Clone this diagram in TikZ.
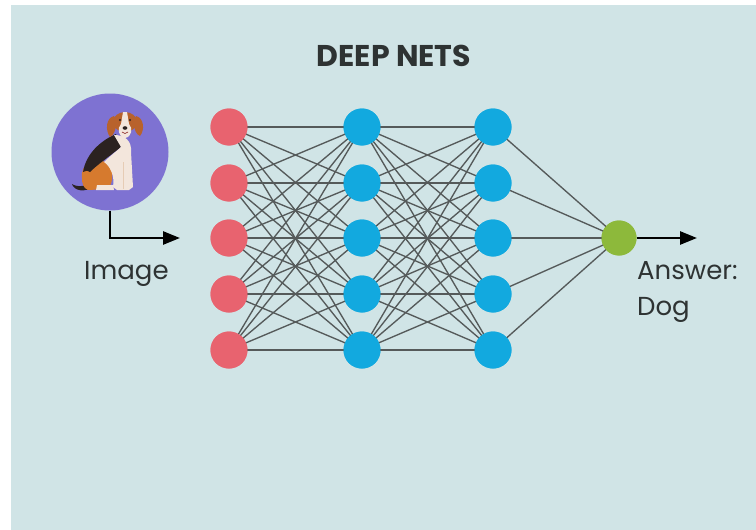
\documentclass[tikz,border=0pt]{standalone}
\usepackage{fontspec}
\setmainfont{Poppins}
\usetikzlibrary{arrows.meta}
\definecolor{panel}{HTML}{D0E4E6}
\definecolor{inpink}{HTML}{E8636F}
\definecolor{hidblue}{HTML}{12A9DF}
\definecolor{outgreen}{HTML}{8DB93B}
\definecolor{discpurple}{HTML}{7E72D2}
\definecolor{wire}{HTML}{555A5A}
\definecolor{ink}{HTML}{2E3333}
\definecolor{earbrown}{HTML}{B8622C}
\definecolor{haunch}{HTML}{D67A2E}
\definecolor{saddle}{HTML}{2B2220}
\definecolor{coat}{HTML}{F3E6DC}
\tikzset{
  neuron/.style={circle, minimum size=37pt, inner sep=0pt},
  inlayer/.style={neuron, fill=inpink},
  hidlayer/.style={neuron, fill=hidblue},
  outlayer/.style={circle, minimum size=35pt, inner sep=0pt, fill=outgreen},
  synapse/.style={draw=wire, line width=1.35pt},
  flow/.style={draw=black, line width=2.6pt, -{Triangle[length=17pt,width=13pt]}},
  label/.style={text=ink, font=\fontsize{26}{36}\selectfont, align=left, inner sep=0pt},
}
\begin{document}
\begin{tikzpicture}[x=1pt,y=-1pt]
\useasboundingbox (0,0) rectangle (756,530);
\fill[white] (0,0) rectangle (756,530);
\fill[panel] (11,5) rectangle (756,530);

\node[text=ink, font=\fontsize{30}{36}\selectfont\bfseries] (title) at (394,56) {DEEP NETS};

% input picture: a seated beagle on a purple disc
\node[circle, fill=discpurple, minimum size=117pt, inner sep=0pt] (img) at (110,152) {};
\begin{scope}
  % tail
  \fill[saddle] (95,186) .. controls (85,193) and (74,191) .. (72,184)
     .. controls (78,188) and (88,186) .. (93,181) -- cycle;
  % orange haunch
  \fill[haunch] (82,178) .. controls (80,164) and (94,158) .. (106,162)
     .. controls (114,168) and (114,182) .. (108,189) -- (88,190)
     .. controls (83,188) and (82,183) .. (82,178) -- cycle;
  % black saddle over the back
  \fill[saddle] (83,172) .. controls (86,154) and (100,141) .. (116,134)
     -- (121,147) .. controls (110,156) and (98,164) .. (90,172)
     .. controls (87,170) and (85,171) .. (83,172) -- cycle;
  % chest and front legs
  \fill[coat] (114,135) .. controls (125,135) and (132,141) .. (131,152)
     -- (133,187) -- (129,190) -- (117,190) -- (113,187)
     .. controls (115,176) and (110,166) .. (104,162)
     .. controls (110,156) and (118,150) .. (121,147) -- cycle;
  \draw[coat!75!brown, line width=0.6pt] (123,162) -- (123,189);
  % hind paw
  \fill[coat] (97,185) -- (113,185) -- (114,190) -- (96,190) -- cycle;
  % ears
  \fill[earbrown] (114,116) .. controls (106,118) and (105,130) .. (110,137)
     .. controls (114,136) and (116,128) .. (117,122) -- cycle;
  \fill[earbrown] (136,116) .. controls (144,118) and (145,130) .. (140,136)
     .. controls (136,135) and (134,128) .. (133,122) -- cycle;
  % head
  \fill[earbrown] (125,122) ellipse[x radius=12pt, y radius=10pt];
  % white blaze and muzzle
  \fill[coat] (123,112) -- (127,112) -- (129,124)
     .. controls (133,128) and (132,137) .. (125,138)
     .. controls (118,137) and (117,128) .. (121,124) -- cycle;
  \fill[saddle] (125,128) ellipse[x radius=2.4pt, y radius=1.8pt];
  \fill[saddle] (120,120) circle[radius=1.1pt];
  \fill[saddle] (130,120) circle[radius=1.1pt];
  \draw[saddle!60!red, line width=0.6pt] (122,132) .. controls (124,134) and (126,134) .. (128,132);
\end{scope}

\coordinate (imgturn) at (110,238);
\coordinate (imgtip) at (180,238);
\draw[flow] (img.south) -- (imgturn) -- (imgtip);
\node[label, anchor=north west] (imglabel) at (84,261) {Image};

% layers
\foreach \i/\y in {1/127,2/183,3/238,4/294,5/350} {
  \node[inlayer] (a\i) at (229,\y) {};
  \node[hidlayer] (b\i) at (362,\y) {};
  \node[hidlayer] (c\i) at (493,\y) {};
}
\node[outlayer] (out) at (619,238) {};

% fully connected wiring
\foreach \i in {1,...,5} {
  \foreach \j in {1,...,5} {
    \draw[synapse] (a\i.center) -- (b\j.center);
    \draw[synapse] (b\i.center) -- (c\j.center);
  }
  \draw[synapse] (c\i.center) -- (out.center);
}
% neurons painted over the wires
\foreach \i in {1,...,5} {
  \fill[inpink] (a\i) circle[radius=18.5pt];
  \fill[hidblue] (b\i) circle[radius=18.5pt];
  \fill[hidblue] (c\i) circle[radius=18.5pt];
}
\fill[outgreen] (out) circle[radius=17.5pt];

\coordinate (outtip) at (697,238);
\draw[flow] (out.east) -- (outtip);
\node[label, anchor=north west] (answer) at (637,261) {Answer:\\Dog};
\end{tikzpicture}
\end{document}
